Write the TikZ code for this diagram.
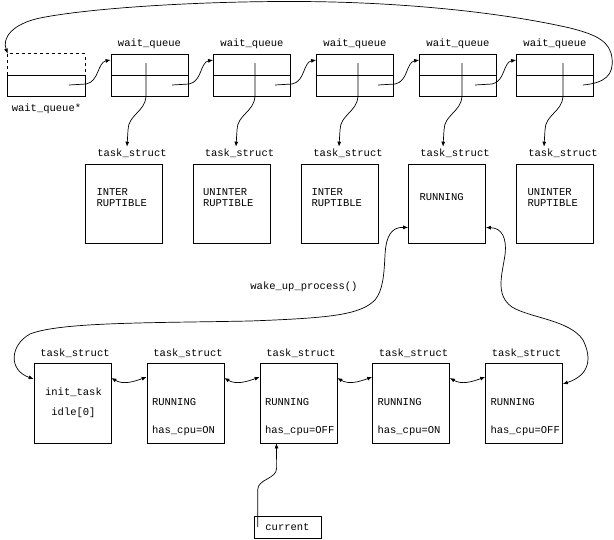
\documentclass[tikz,border=0pt]{standalone}
\usepackage{fontspec}
\setmonofont{Liberation Mono}
\usetikzlibrary{positioning,calc,arrows.meta}
\begin{document}
\begin{tikzpicture}[x=1pt, y=1pt, line width=0.7pt,
  >={Latex[length=5pt,width=4pt]},
  every node/.style={font=\ttfamily\fontsize{10.5}{10.5}\selectfont, inner sep=0pt},
  qbox/.style={draw, minimum width=77pt, minimum height=42pt},
  tbox/.style={draw, minimum width=77pt, minimum height=79pt},
  tag/.style={anchor=base},
  txt/.style={align=left, anchor=north west}]
\useasboundingbox (0,0) rectangle (614,-539);

% --- wait queue list ---
\node[qbox, draw=none] (wq0) at (46.5,-75) {};
\node[qbox] (wq1) at (149.5,-75) {};
\node[qbox] (wq2) at (252,-75) {};
\node[qbox] (wq3) at (355,-75) {};
\node[qbox] (wq4) at (458,-75) {};
\node[qbox] (wq5) at (555,-75) {};
\node[below=15pt of wq0, tag] (wq0l) {wait\_queue*};
\node[above=7pt of wq1, tag] (wq1l) {wait\_queue};
\node[above=7pt of wq2, tag] (wq2l) {wait\_queue};
\node[above=7pt of wq3, tag] (wq3l) {wait\_queue};
\node[above=7pt of wq4, tag] (wq4l) {wait\_queue};
\node[above=7pt of wq5, tag] (wq5l) {wait\_queue};
% head: dashed upper half
\draw[dashed] (wq0.west) -- (wq0.north west) -- (wq0.north east) -- (wq0.east);
\draw (wq0.west) rectangle (wq0.south east);
\draw (wq1.west) -- (wq1.east);
\draw (wq2.west) -- (wq2.east);
\draw (wq3.west) -- (wq3.east);
\draw (wq4.west) -- (wq4.east);
\draw (wq5.west) -- (wq5.east);

% pointer starts
\coordinate (h0) at (69,-85);
\coordinate (h1) at (172,-85);
\coordinate (h2) at (275,-85);
\coordinate (h3) at (378,-85);
\coordinate (h4) at (475,-85);
\coordinate (h5) at (583,-85);
\coordinate (v1) at (146,-63);
\coordinate (v2) at (255,-63);
\coordinate (v3) at (358,-63);
\coordinate (v4) at (462,-63);
\coordinate (v5) at (563,-63);

% next links
\draw[->] (h0) -- ++(17,1) to[out=10, in=190] ($(wq1.west)+(0,15)$);
\draw[->] (h1) -- ++(17,1) to[out=10, in=190] ($(wq2.west)+(0,15)$);
\draw[->] (h2) -- ++(17,1) to[out=10, in=190] ($(wq3.west)+(0,15)$);
\draw[->] (h3) -- ++(17,1) to[out=10, in=190] ($(wq4.west)+(0,15)$);
\draw[->] (h4) -- ++(17,1) to[out=10, in=190] ($(wq5.west)+(0,15)$);
% last one back to the head
\draw[->] (h5) .. controls (605,-83) and (614,-75) .. (612,-58)
  .. controls (610,-42) and (598,-35) .. (570,-28)
  .. controls (500,-12) and (400,-2) .. (300,-1.5)
  .. controls (200,-1) and (90,-8) .. (40,-18)
  .. controls (12,-24) and (2,-38) .. (wq0.north west);

% --- task_struct of the waiting tasks ---
\node[tbox] (ts1) at (124,-203.5) {};
\node[tbox] (ts2) at (231.5,-203.5) {};
\node[tbox] (ts3) at (340,-203.5) {};
\node[tbox] (ts4) at (447,-203.5) {};
\node[tbox] (ts5) at (555,-203.5) {};
\node[above=7pt of ts1, tag, xshift=8pt] (tl1) {task\_struct};
\node[above=7pt of ts2, tag, xshift=8pt] (tl2) {task\_struct};
\node[above=7pt of ts3, tag, xshift=8pt] (tl3) {task\_struct};
\node[above=7pt of ts4, tag, xshift=8pt] (tl4) {task\_struct};
\node[above=7pt of ts5, tag, xshift=8pt] (tl5) {task\_struct};
\node[txt] (ts1t) at ($(ts1.north west)+(11,-25)$) {INTER\\RUPTIBLE};
\node[txt] (ts2t) at ($(ts2.north west)+(10,-25)$) {UNINTER\\RUPTIBLE};
\node[txt] (ts3t) at ($(ts3.north west)+(10,-25)$) {INTER\\RUPTIBLE};
\node[txt] (ts4t) at ($(ts4.north west)+(11,-29)$) {RUNNING};
\node[txt] (ts5t) at ($(ts5.north west)+(11,-25)$) {UNINTER\\RUPTIBLE};

% task pointers
\draw[->] (v1) -- ++(0,-34) to[out=-95, in=90] ++(-18,-33) -- ($(v1 |- tl1.north)+(-19,2)$);
\draw[->] (v2) -- ++(0,-34) to[out=-95, in=90] ++(-18,-33) -- ($(v2 |- tl2.north)+(-19,2)$);
\draw[->] (v3) -- ++(0,-34) to[out=-95, in=90] ++(-18,-33) -- ($(v3 |- tl3.north)+(-19,2)$);
\draw[->] (v4) -- ++(0,-34) to[out=-95, in=90] ++(-18,-33) -- ($(v4 |- tl4.north)+(-19,2)$);
\draw[->] (v5) -- ++(0,-34) to[out=-95, in=90] ++(-18,-33) -- ($(v5 |- tl5.north)+(-19,2)$);

% --- run queue ---
\node[tbox, minimum height=80pt] (bt1) at (72.5,-403) {};
\node[tbox, minimum height=80pt] (bt2) at (185.5,-403) {};
\node[tbox, minimum height=80pt] (bt3) at (298.5,-403) {};
\node[tbox, minimum height=80pt] (bt4) at (411,-403) {};
\node[tbox, minimum height=80pt] (bt5) at (524,-403) {};
\node[above=6.5pt of bt1, tag, xshift=2.5pt] (bl1) {task\_struct};
\node[above=6.5pt of bt2, tag, xshift=2.5pt] (bl2) {task\_struct};
\node[above=6.5pt of bt3, tag, xshift=2.5pt] (bl3) {task\_struct};
\node[above=6.5pt of bt4, tag, xshift=2.5pt] (bl4) {task\_struct};
\node[above=6.5pt of bt5, tag, xshift=2.5pt] (bl5) {task\_struct};
\node[align=center, anchor=north] (bt1t) at ($(bt1.north)+(1,-25)$) {init\_task\\[9.5pt]idle[0]};
\node[txt] (bt2t) at ($(bt2.north west)+(5,-35)$) {RUNNING\\[17.5pt]has\_cpu=ON};
\node[txt] (bt3t) at ($(bt3.north west)+(5,-35)$) {RUNNING\\[17.5pt]has\_cpu=OFF};
\node[txt] (bt4t) at ($(bt4.north west)+(5,-35)$) {RUNNING\\[17.5pt]has\_cpu=ON};
\node[txt] (bt5t) at ($(bt5.north west)+(5,-35)$) {RUNNING\\[17.5pt]has\_cpu=OFF};

% prev/next links
\draw[<->] ($(bt1.east)+(0,25)$) to[out=-30, in=200] ($(bt2.west)+(0,26)$);
\draw[<->] ($(bt2.east)+(0,25)$) to[out=-30, in=200] ($(bt3.west)+(0,26)$);
\draw[<->] ($(bt3.east)+(0,25)$) to[out=-30, in=200] ($(bt4.west)+(0,26)$);
\draw[<->] ($(bt4.east)+(0,25)$) to[out=-30, in=200] ($(bt5.west)+(0,26)$);

% woken task joins the run queue
\node (wake) at (304,-287) {wake\_up\_process()};
\draw[<->] ($(bt1.west)+(0,24)$) .. controls (8,-370) and (10,-345) .. (30,-334)
  .. controls (60,-322) and (150,-323) .. (250,-321)
  .. controls (330,-318) and (360,-315) .. (375,-300)
  .. controls (383,-290) and (384,-275) .. (385,-255)
  .. controls (386,-235) and (392,-227) .. ($(ts4.west)+(0,-24)$);
\draw[<->] ($(ts4.east)+(0,-24)$) .. controls (502,-228) and (507,-238) .. (505,-255)
  .. controls (502,-275) and (495,-295) .. (512,-307)
  .. controls (530,-318) and (570,-320) .. (583,-340)
  .. controls (592,-358) and (590,-375) .. ($(bt5.east)+(0,19)$);

% --- current ---
\node[draw, minimum width=67pt, minimum height=22pt] (cur) at (287.5,-527) {current};
\coordinate (cp) at ($(cur.west)+(4,0)$);
\draw[->] (cp) -- ++(0,37) to[out=90, in=-90] ++(19,22) -- ($(bt3.south)+(-22,0)$);
\end{tikzpicture}
\end{document}
